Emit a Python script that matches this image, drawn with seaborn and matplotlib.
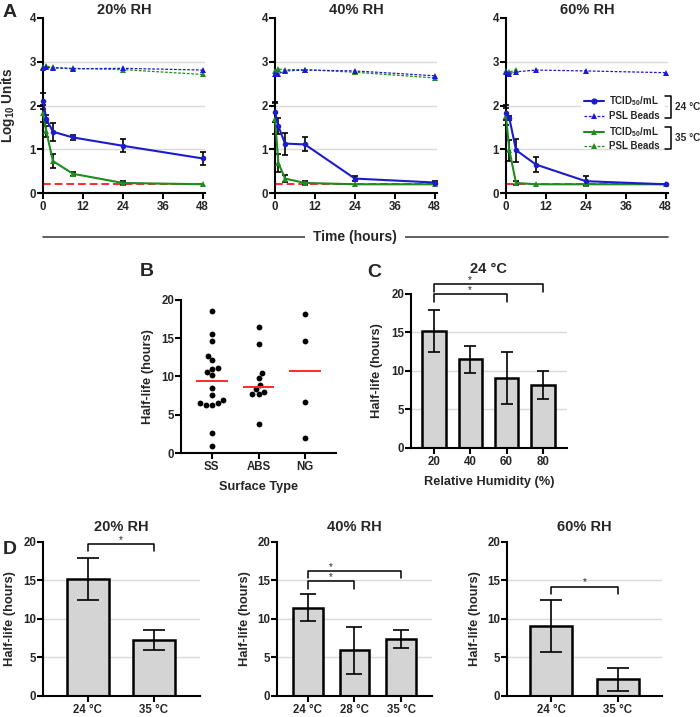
import numpy as np
import pandas as pd
import seaborn as sns
import matplotlib.pyplot as plt
from matplotlib.lines import Line2D
from matplotlib.patches import Rectangle

# ---- Panel A: decay over time (log10 units) ----
hours = [0, 1, 3, 9, 24, 48]
lod = 0.2

rh20_tcid_24c = [2.11, 1.69, 1.40, 1.27, 1.08, 0.79]
rh20_tcid_24c_sd = [0.18, 0.10, 0.20, 0.05, 0.15, 0.15]
rh20_tcid_35c = [1.82, 1.41, 0.73, 0.44, 0.23, 0.20]
rh20_tcid_35c_sd = [0.20, 0.12, 0.16, 0.05, 0.05, 0.0]
rh20_psl_24c = [2.85, 2.87, 2.86, 2.84, 2.85, 2.81]
rh20_psl_35c = [2.87, 2.90, 2.87, 2.85, 2.82, 2.71]

rh40_tcid_24c = [1.85, 1.53, 1.13, 1.11, 0.33, 0.24]
rh40_tcid_24c_sd = [0.22, 0.18, 0.25, 0.16, 0.05, 0.04]
rh40_tcid_35c = [1.70, 0.69, 0.33, 0.23, 0.20, 0.20]
rh40_tcid_35c_sd = [0.35, 0.20, 0.08, 0.05, 0.0, 0.0]
rh40_psl_24c = [2.73, 2.73, 2.79, 2.81, 2.79, 2.68]
rh40_psl_35c = [2.79, 2.83, 2.82, 2.82, 2.76, 2.63]

rh60_tcid_24c = [1.84, 1.71, 0.98, 0.65, 0.27, 0.20]
rh60_tcid_24c_sd = [0.17, 0.05, 0.26, 0.18, 0.12, 0.0]
rh60_tcid_35c = [1.75, 0.98, 0.23, 0.20, 0.20, 0.20]
rh60_tcid_35c_sd = [0.20, 0.24, 0.05, 0.0, 0.0, 0.0]
rh60_psl_24c = [2.77, 2.73, 2.77, 2.81, 2.79, 2.75]
rh60_psl_35c = [2.79, 2.76, 2.82, np.nan, np.nan, np.nan]

# ---- Panel B: half-life by surface ----
surface_types = ["SS", "ABS", "NG"]
ss_halflife = [18.6, 15.6, 14.6, 12.7, 12.1, 11.0, 11.1, 10.6, 10.2, 8.5,
               7.6, 6.9, 6.5, 6.6, 6.25, 6.3, 2.6, 0.95]
abs_halflife = [16.5, 14.3, 10.4, 9.75, 8.9, 8.0, 8.35, 7.65, 7.75, 3.8]
ng_halflife = [18.2, 14.65, 6.7, 1.94]

# ---- Panel C: half-life vs RH at 24 C ----
rh_levels = ["20", "40", "60", "80"]
halflife_24c = [15.2, 11.5, 9.05, 8.2]
halflife_24c_sd = [2.7, 1.75, 3.4, 1.8]

# ---- Panel D: half-life vs temperature ----
temps_rh20 = ["24 \u00b0C", "35 \u00b0C"]
halflife_rh20 = [15.2, 7.25]
halflife_rh20_sd = [2.7, 1.3]
temps_rh40 = ["24 \u00b0C", "28 \u00b0C", "35 \u00b0C"]
halflife_rh40 = [11.45, 5.95, 7.4]
halflife_rh40_sd = [1.75, 3.05, 1.2]
temps_rh60 = ["24 \u00b0C", "35 \u00b0C"]
halflife_rh60 = [9.1, 2.15]
halflife_rh60_sd = [3.4, 1.45]

BLUE = "#1c1ccc"
GREEN = "#1e8c1e"
RED = "#ff2a2a"
GRID = "#dadada"
BAR = "#d4d4d4"
PSL_DASH = (0, (2.2, 1.3))
TICK_FS = 8.3

sns.set_theme(style="ticks")
plt.rcParams["font.family"] = ["Liberation Sans", "DejaVu Sans"]
plt.rcParams["font.weight"] = "bold"
plt.rcParams["axes.labelweight"] = "bold"
plt.rcParams["axes.titleweight"] = "bold"
plt.rcParams["mathtext.fontset"] = "custom"
plt.rcParams["mathtext.rm"] = "Liberation Sans"
plt.rcParams["mathtext.bf"] = "Liberation Sans:bold"
plt.rcParams["mathtext.default"] = "bf"

fig = plt.figure(figsize=(7, 7.17), dpi=100)


def style_axes(ax, yticks, grid=True):
    sns.despine(ax=ax)
    for s in ["left", "bottom"]:
        ax.spines[s].set_linewidth(1.5)
        ax.spines[s].set_color("black")
    ax.tick_params(direction="out", length=4, width=1.5, color="black",
                   labelsize=TICK_FS, pad=2)
    ax.tick_params(axis="y", pad=1)
    ax.set_yticks(yticks)
    for lab in ax.get_xticklabels() + ax.get_yticklabels():
        lab.set_fontweight("bold")
    if grid:
        for v in yticks[1:-1]:
            ax.axhline(v, color=GRID, lw=1, zorder=0)
    ax.set_facecolor("white")


def add_errorbars(ax, x, y, sd, capsize):
    keep = [i for i, s in enumerate(sd) if s > 0]
    ax.errorbar([x[i] for i in keep], [y[i] for i in keep],
                yerr=[sd[i] for i in keep], fmt="none", ecolor="black",
                elinewidth=1.2, capsize=capsize, capthick=1.2, zorder=3,
                clip_on=False)


def draw_decay(ax, title, tcid24, sd24, tcid35, sd35, psl24, psl35):
    df = pd.DataFrame({"hours": hours, "tcid24": tcid24, "tcid35": tcid35,
                       "psl24": psl24, "psl35": psl35})
    ax.plot([hours[0], hours[-1]], [lod, lod], color=RED, ls=(0, (4, 2)),
            lw=1.4, zorder=1)
    series = [("psl35", GREEN, "^", PSL_DASH, 0.9, 3.5, 4.5),
              ("psl24", BLUE, "^", PSL_DASH, 0.9, 3.6, 4.5),
              ("tcid35", GREEN, "^", "-", 1.5, 4, 4.5),
              ("tcid24", BLUE, "o", "-", 1.5, 4.1, 4)]
    for col, color, marker, ls, lw, z, ms in series:
        sub = df[["hours", col]].dropna()
        sns.lineplot(data=sub, x="hours", y=col, color=color, marker=marker,
                     linestyle=ls, lw=lw, markersize=ms, markeredgewidth=0,
                     clip_on=False, zorder=z, ax=ax)
    add_errorbars(ax, hours, tcid35, sd35, 2.5)
    add_errorbars(ax, hours, tcid24, sd24, 2.5)
    ax.set_xlim(0, 48.8)
    ax.set_ylim(0, 4)
    ax.set_xticks([0, 12, 24, 36, 48])
    ax.set_xlabel("")
    ax.set_ylabel("")
    style_axes(ax, [0, 1, 2, 3, 4])
    ax.set_title(title, fontsize=10.5, pad=3)


def draw_bars(ax, labels, vals, sd, capsize, title=None, title_pad=8):
    sns.barplot(x=labels, y=vals, color=BAR, saturation=1, edgecolor="black",
                linewidth=1.8, width=0.64, errorbar=None, ax=ax, zorder=2)
    add_errorbars(ax, list(range(len(vals))), vals, sd, capsize)
    ax.set_ylim(0, 20)
    n = len(vals)
    ax.set_xlim(-0.66, n - 1 + 0.66)
    style_axes(ax, [0, 5, 10, 15, 20])
    ax.set_ylabel("Half-life (hours)", fontsize=9.3)
    if title:
        ax.set_title(title, fontsize=10.5, pad=title_pad)


def bracket(ax, x1, x2, y, drop, star_x):
    ax.plot([x1, x1, x2, x2], [y - drop, y, y, y - drop], color="black",
            lw=1.1, clip_on=False, zorder=5)
    ax.text(star_x, y - 0.1, "*", ha="center", va="bottom", fontsize=7,
            fontweight="normal", clip_on=False)


# Panel A
a_lefts = [0.0614, 0.3929, 0.7229]
a_axes = [fig.add_axes([l, 0.7308, 0.2319, 0.2441]) for l in a_lefts]
draw_decay(a_axes[0], "20% RH", rh20_tcid_24c, rh20_tcid_24c_sd,
           rh20_tcid_35c, rh20_tcid_35c_sd, rh20_psl_24c, rh20_psl_35c)
draw_decay(a_axes[1], "40% RH", rh40_tcid_24c, rh40_tcid_24c_sd,
           rh40_tcid_35c, rh40_tcid_35c_sd, rh40_psl_24c, rh40_psl_35c)
draw_decay(a_axes[2], "60% RH", rh60_tcid_24c, rh60_tcid_24c_sd,
           rh60_tcid_35c, rh60_tcid_35c_sd, rh60_psl_24c, rh60_psl_35c)
a_axes[0].set_ylabel("Log$_{10}$ Units", fontsize=9.8)
a_axes[0].yaxis.set_label_coords(-0.16, 0.5)

# legend in 60% RH panel, drawn by hand to get the brackets
lax = a_axes[2]
lax.add_patch(Rectangle((0.46, 0.27), 0.52, 0.29, transform=lax.transAxes,
                        facecolor="white", edgecolor="none", zorder=2.5))
rows = [(0.526, BLUE, "o", "-", 1.5, "TCID$_{50}$/mL"),
        (0.44, BLUE, "^", PSL_DASH, 0.9, "PSL Beads"),
        (0.349, GREEN, "^", "-", 1.5, "TCID$_{50}$/mL"),
        (0.269, GREEN, "^", PSL_DASH, 0.9, "PSL Beads")]
for y, color, marker, ls, lw, label in rows:
    lax.add_line(Line2D([0.48, 0.604], [y, y], transform=lax.transAxes,
                        color=color, ls=ls, lw=lw, zorder=5))
    lax.add_line(Line2D([0.542], [y], transform=lax.transAxes, color=color,
                        marker=marker, markersize=4.5, markeredgewidth=0,
                        zorder=5))
    lax.text(0.635, y, label, transform=lax.transAxes, fontsize=7,
             va="center", ha="left", zorder=5)
for y0, y1, lab in [(0.554, 0.429, "24 \u00b0C"), (0.377, 0.251, "35 \u00b0C")]:
    lax.add_line(Line2D([0.98, 1.017, 1.017, 0.98], [y0, y0, y1, y1],
                        transform=lax.transAxes, color="black", lw=1.1,
                        clip_on=False, zorder=5))
    lax.text(1.04, (y0 + y1) / 2, lab, transform=lax.transAxes, fontsize=7.3,
             va="center", ha="left", clip_on=False)

# Time axis title with rule
fig.add_artist(Line2D([0.0614, 0.954], [0.6695, 0.6695], color="#444444",
                      lw=1.2))
fig.text(0.507, 0.6695, "Time (hours)", ha="center", va="center", fontsize=10,
         fontweight="bold",
         bbox=dict(facecolor="white", edgecolor="none", pad=6))

# Panel B
axB = fig.add_axes([0.2586, 0.3682, 0.2214, 0.2134])
dfb = pd.DataFrame({
    "surface": ["SS"] * len(ss_halflife) + ["ABS"] * len(abs_halflife)
               + ["NG"] * len(ng_halflife),
    "halflife": ss_halflife + abs_halflife + ng_halflife})
sns.swarmplot(data=dfb, x="surface", y="halflife", order=surface_types,
              color="black", size=4.2, ax=axB, zorder=3)
for i, vals in enumerate([ss_halflife, abs_halflife, ng_halflife]):
    axB.hlines(np.median(vals), i - 0.34, i + 0.34, color=RED, lw=1.4,
               zorder=4)
axB.set_ylim(0, 20)
axB.set_xlim(-0.66, 2.66)
style_axes(axB, [0, 5, 10, 15, 20], grid=False)
axB.set_ylabel("Half-life (hours)", fontsize=9.3)
axB.set_xlabel("Surface Type", fontsize=9.2)
axB.yaxis.set_label_coords(-0.175, 0.5)
axB.xaxis.set_label_coords(0.5, -0.185)

# Panel C
axC = fig.add_axes([0.5871, 0.3752, 0.2229, 0.2148])
draw_bars(axC, rh_levels, halflife_24c, halflife_24c_sd, 4, "24 \u00b0C", 15)
axC.set_xlim(-0.63, 3.66)
axC.set_xlabel("Relative Humidity (%)", fontsize=9.2)
axC.yaxis.set_label_coords(-0.18, 0.5)
axC.xaxis.set_label_coords(0.5, -0.185)
bracket(axC, 0, 3, 21.3, 1.0, 1.0)
bracket(axC, 0, 2, 20.0, 1.0, 1.0)

# Panel D
axD1 = fig.add_axes([0.0614, 0.0293, 0.2243, 0.2148])
draw_bars(axD1, temps_rh20, halflife_rh20, halflife_rh20_sd, 8, "20% RH")
axD1.set_xlim(-0.68, 1.70)
bracket(axD1, 0, 1, 19.7, 0.9, 0.5)

axD2 = fig.add_axes([0.3957, 0.0293, 0.2214, 0.2148])
draw_bars(axD2, temps_rh40, halflife_rh40, halflife_rh40_sd, 5.5, "40% RH")
bracket(axD2, 0, 2, 16.2, 0.9, 0.5)
bracket(axD2, 0, 1, 14.9, 1.0, 0.5)

axD3 = fig.add_axes([0.7243, 0.0293, 0.2214, 0.2148])
draw_bars(axD3, temps_rh60, halflife_rh60, halflife_rh60_sd, 8, "60% RH")
bracket(axD3, 0, 1, 14.2, 0.9, 0.5)

for ax in [axD1, axD2, axD3]:
    ax.yaxis.set_label_coords(-0.17, 0.5)

# panel letters
for x, y, letter in [(0.0143, 0.9826, "A"), (0.21, 0.622, "B"),
                     (0.534, 0.6206, "C"), (0.0143, 0.2343, "D")]:
    fig.text(x, y, letter, ha="center", va="center", fontsize=14,
             fontweight="bold")

fig.savefig("out.png", dpi=100)
